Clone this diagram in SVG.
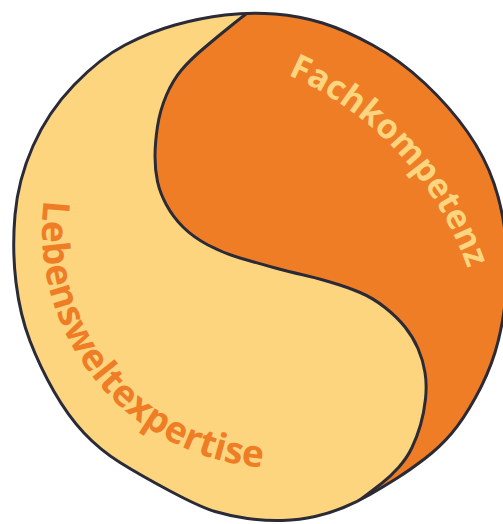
<svg xmlns="http://www.w3.org/2000/svg" width="503" height="524" viewBox="0 0 503 524">
  <style>
    .outline { fill: none; stroke: #2b2b38; stroke-width: 3; stroke-linejoin: round; stroke-linecap: round; }
    .label { font-family: "Open Sans", "Noto Sans", sans-serif; font-weight: 700; }
  </style>
  <defs>
    <!-- hand-drawn outer rim -->
    <path id="rim" d="M 275,14 Q 300,16 322.5,23 Q 345,30 372.5,45 Q 400,60 425,83.5 Q 450,107 467.5,132 Q 485,157 494,183.5 Q 503,210 506,240 Q 509,270 505.5,300 Q 502,330 495,352.5 Q 488,375 475.5,397.5 Q 463,420 451.5,433.5 Q 440,447 425,458.5 Q 410,470 396.5,478.5 Q 383,487 370,494.5 Q 357,502 343.5,507.5 Q 330,513 315,516.5 Q 300,520 282.5,520.5 Q 265,521 247.5,518.5 Q 230,516 215,511.5 Q 200,507 170,491 Q 140,475 120,462.5 Q 100,450 84,433 Q 68,416 54,391.5 Q 40,367 30,341 Q 20,315 16,282.5 Q 12,250 15,215 Q 18,180 33,146 Q 48,112 74,85 Q 100,58 125,45 Q 150,32 175,25 Q 200,18 225,15 Q 250,12 275,14 Z"/>
    <clipPath id="rimClip"><use href="#rim"/></clipPath>
    <!-- dividing S-curve -->
    <path id="divide" d="M 265,0 L 256,6.5 Q 247,13 232,25 Q 217,37 203.5,48.5 Q 190,60 181.5,70 Q 173,80 166.5,95 Q 160,110 157.5,126.5 Q 155,143 155,156.5 Q 155,170 157.5,181.5 Q 160,193 166.5,205 Q 173,217 183,227 Q 193,237 208,245 Q 223,253 240,258 Q 257,263 273.5,267.5 Q 290,272 301.5,274.5 Q 313,277 330,282 Q 347,287 360,292.5 Q 373,298 385,307.5 Q 397,317 405,327 Q 413,337 418,348.5 Q 423,360 425,372.5 Q 427,385 425.5,399 Q 424,413 420.5,425 Q 417,437 412,447.5 Q 407,458 398.5,467.5 Q 390,477 381.5,483.5 Q 373,490 366.5,495 Q 360,500 347.5,509 L 335,518"/>
    <!-- baselines for the curved labels -->
    <path id="fachArc" d="M 287.8,74.8 A 331 331 0 0 1 479.1,309.3"/>
    <path id="lebenArc" d="M 43.9,200.2 A 238 238 0 0 0 288.3,467.9"/>
  </defs>

  <rect width="503" height="524" fill="#ffffff"/>

  <g id="disc">
    <use href="#rim" fill="#fdd57e"/>
    <path clip-path="url(#rimClip)" fill="#ee7d25" d="M 265,0 L 256,6.5 Q 247,13 232,25 Q 217,37 203.5,48.5 Q 190,60 181.5,70 Q 173,80 166.5,95 Q 160,110 157.5,126.5 Q 155,143 155,156.5 Q 155,170 157.5,181.5 Q 160,193 166.5,205 Q 173,217 183,227 Q 193,237 208,245 Q 223,253 240,258 Q 257,263 273.5,267.5 Q 290,272 301.5,274.5 Q 313,277 330,282 Q 347,287 360,292.5 Q 373,298 385,307.5 Q 397,317 405,327 Q 413,337 418,348.5 Q 423,360 425,372.5 Q 427,385 425.5,399 Q 424,413 420.5,425 Q 417,437 412,447.5 Q 407,458 398.5,467.5 Q 390,477 381.5,483.5 Q 373,490 366.5,495 Q 360,500 347.5,509 L 335,518 L 335,540 L 560,540 L 560,-20 L 265,-20 Z"/>
    <use href="#divide" class="outline" clip-path="url(#rimClip)"/>
    <use href="#rim" class="outline"/>
  </g>

  <g id="fachkompetenz">
    <text class="label" font-size="34" fill="#fdd57e"><textPath href="#fachArc" textLength="272" lengthAdjust="spacing">Fachkompetenz</textPath></text>
  </g>

  <g id="lebensweltexpertise">
    <text class="label" font-size="37" fill="#ee7d25"><textPath href="#lebenArc" textLength="386" lengthAdjust="spacing">Lebensweltexpertise</textPath></text>
  </g>
</svg>
